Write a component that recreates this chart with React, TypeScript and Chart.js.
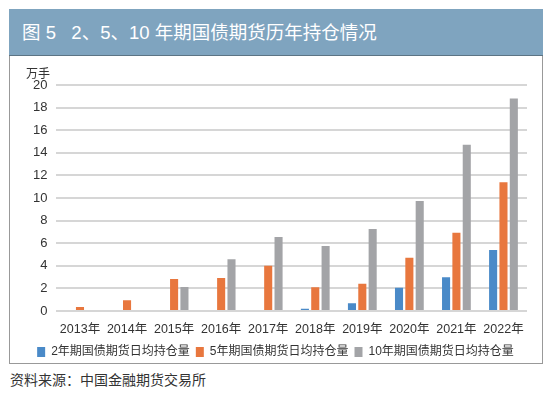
import React, { useEffect, useRef } from "react";
import { Chart, registerables } from "chart.js";

Chart.register(...registerables);

const categories = ["2013年", "2014年", "2015年", "2016年", "2017年", "2018年", "2019年", "2020年", "2021年", "2022年"];
const seriesNames = ["2年期国债期货日均持仓量", "5年期国债期货日均持仓量", "10年期国债期货日均持仓量"];
const twoYear = [null, null, null, null, null, 0.2, 0.68, 2.06, 2.98, 5.4];
const fiveYear = [0.36, 0.95, 2.83, 2.92, 4.0, 2.1, 2.42, 4.72, 6.93, 11.4];
const tenYear = [null, null, 2.12, 4.57, 6.55, 5.75, 7.26, 9.73, 14.72, 18.8];
const yMin = 0;
const yMax = 20;
const yStep = 2;
const colors = ["#4A8AC8", "#E8773E", "#A3A4A7"];
const FONT = "'Liberation Sans', 'Noto Sans CJK SC', sans-serif";

export default function App() {
  const ref = useRef<HTMLCanvasElement | null>(null);
  useEffect(() => {
    if (!ref.current) return;
    const chart = new Chart(ref.current, {
      type: "bar",
      data: {
        labels: categories,
        datasets: [twoYear, fiveYear, tenYear].map((d, i) => ({
          label: seriesNames[i],
          data: d,
          backgroundColor: colors[i],
          borderWidth: 0,
          barPercentage: 0.78,
          categoryPercentage: 0.66,
        })),
      },
      options: {
        responsive: false,
        animation: false,
        layout: { padding: { top: 29, right: 15, left: 14, bottom: 0 } },
        plugins: {
          tooltip: { enabled: false },
          legend: {
            position: "bottom",
            labels: {
              boxWidth: 8,
              boxHeight: 10,
              padding: 6,
              color: "#333",
              font: { family: FONT, size: 12 },
            },
          },
        },
        scales: {
          x: {
            grid: { display: false },
            border: { display: false },
            ticks: { color: "#333", font: { family: FONT, size: 12.5 }, padding: 3, maxRotation: 0 },
          },
          y: {
            min: yMin,
            max: yMax,
            grid: { color: "#D6D6D6", lineWidth: 2, drawTicks: false },
            border: { display: false },
            ticks: { stepSize: yStep, autoSkip: false, color: "#333", font: { family: FONT, size: 13 }, padding: 9 },
          },
        },
      },
    });
    return () => chart.destroy();
  }, []);

  return (
    <div style={{ position: "fixed", left: 0, top: 0, width: 550, height: 394, background: "#fff", fontFamily: FONT }}>
      <div
        style={{
          position: "absolute",
          left: 9,
          top: 9,
          width: 534,
          height: 47,
          background: "#7FA4BF",
          borderBottom: "1px solid #5C7484",
          color: "#fff",
          fontSize: 18.5,
          lineHeight: "47px",
          paddingLeft: 13,
          boxSizing: "border-box",
          whiteSpace: "pre",
        }}
      >
        {"图 5   2、5、10 年期国债期货历年持仓情况"}
      </div>
      <div
        style={{
          position: "absolute",
          left: 9,
          top: 56,
          width: 534,
          height: 308,
          borderLeft: "1px solid #999",
          borderRight: "1px solid #999",
          borderBottom: "1px solid #999",
          boxSizing: "border-box",
        }}
      />
      <canvas
        ref={ref}
        width={532}
        height={312}
        style={{ display: "block", position: "absolute", left: 10, top: 56 }}
      />
      <div style={{ position: "absolute", left: 26, top: 64, fontSize: 12, color: "#333" }}>万手</div>
      <div style={{ position: "absolute", left: 10, top: 369, fontSize: 14, color: "#333" }}>资料来源：中国金融期货交易所</div>
    </div>
  );
}
